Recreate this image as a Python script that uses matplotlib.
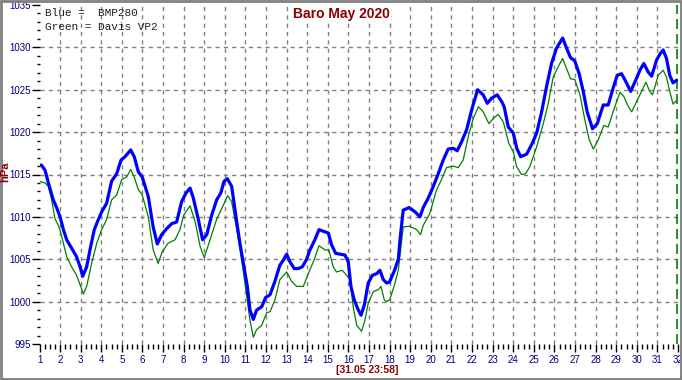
#!/usr/bin/env python

import matplotlib
matplotlib.use('Agg')
import matplotlib.pyplot as plt
from matplotlib.patches import Rectangle
import numpy as np

# BMP280 (blue), day of month and hPa
blue_day = [1.0, 1.1, 1.27, 1.43, 1.67, 1.83, 2.0, 2.16, 2.32, 2.56, 2.8, 2.97,
            3.1, 3.29, 3.45, 3.66, 3.86, 4.02, 4.26, 4.5, 4.75, 4.96, 5.15, 5.43,
            5.6, 5.8, 5.99, 6.28, 6.52, 6.72, 6.93, 7.17, 7.42, 7.66, 7.9, 8.11,
            8.31, 8.47, 8.71, 8.92, 9.12, 9.36, 9.6, 9.8, 9.96, 10.12, 10.33,
            10.54, 10.73, 10.93, 11.09, 11.22, 11.38, 11.54, 11.79, 11.98, 12.19,
            12.43, 12.67, 12.84, 13.0, 13.16, 13.37, 13.56, 13.76, 13.97, 14.13,
            14.37, 14.57, 14.78, 15.02, 15.18, 15.38, 15.59, 15.83, 15.99, 16.12,
            16.28, 16.48, 16.61, 16.77, 16.96, 17.16, 17.37, 17.53, 17.69, 17.85,
            17.99, 18.24, 18.42, 18.52, 18.66, 18.95, 19.23, 19.47, 19.63, 19.87,
            20.12, 20.36, 20.6, 20.84, 21.08, 21.28, 21.5, 21.74, 21.98, 22.27,
            22.54, 22.74, 22.95, 23.22, 23.44, 23.56, 23.76, 24.0, 24.17, 24.36,
            24.65, 24.89, 25.14, 25.38, 25.62, 25.86, 26.1, 26.4, 26.59, 26.78,
            26.99, 27.2, 27.4, 27.59, 27.85, 28.08, 28.37, 28.61, 28.85, 29.05,
            29.26, 29.48, 29.7, 29.96, 30.15, 30.34, 30.55, 30.72, 30.96, 31.12,
            31.28, 31.44, 31.6, 31.76, 31.92]
blue_hpa = [1016.1, 1016.1, 1015.5, 1014.0, 1012.0, 1011.1, 1010.0, 1008.5, 1007.3,
            1006.3, 1005.3, 1004.1, 1003.0, 1004.1, 1006.1, 1008.5, 1009.7, 1010.6,
            1011.6, 1014.2, 1015.1, 1016.7, 1017.1, 1017.9, 1017.1, 1015.3, 1014.7,
            1012.4, 1008.8, 1006.8, 1007.9, 1008.6, 1009.2, 1009.4, 1011.8, 1012.8,
            1013.4, 1012.2, 1009.7, 1007.3, 1007.9, 1010.2, 1012.0, 1012.8, 1014.2,
            1014.5, 1013.6, 1010.0, 1006.9, 1004.1, 1001.8, 999.0, 997.9, 999.0,
            999.4, 1000.5, 1000.8, 1002.4, 1004.3, 1004.9, 1005.6, 1004.7, 1003.9,
            1003.9, 1004.1, 1005.0, 1006.1, 1007.3, 1008.5, 1008.3, 1008.1, 1006.7,
            1005.7, 1005.6, 1005.5, 1004.7, 1001.8, 1000.2, 999.0, 998.4, 999.6,
            1002.2, 1003.1, 1003.3, 1003.7, 1002.6, 1002.2, 1002.3, 1003.7, 1005.0,
            1007.7, 1010.8, 1011.1, 1010.6, 1010.0, 1011.1, 1012.2, 1013.6, 1015.1,
            1016.7, 1018.0, 1018.1, 1017.8, 1018.9, 1020.3, 1022.6, 1025.0, 1024.4,
            1023.4, 1024.0, 1024.4, 1023.6, 1023.0, 1020.6, 1019.9, 1018.1, 1017.1,
            1017.4, 1018.5, 1019.9, 1022.4, 1025.4, 1028.1, 1029.9, 1031.1, 1029.9,
            1028.8, 1028.4, 1026.9, 1024.8, 1022.4, 1020.4, 1021.0, 1023.2, 1023.2,
            1025.2, 1026.7, 1026.9, 1025.9, 1024.8, 1026.2, 1027.3, 1028.1, 1027.1,
            1026.6, 1028.5, 1029.2, 1029.7, 1028.7, 1026.7, 1025.8, 1026.1]

# Davis VP2 (green)
green_day = [1.0, 1.27, 1.43, 1.59, 1.75, 1.95, 2.08, 2.32, 2.56, 2.8, 2.97, 3.13,
             3.29, 3.53, 3.78, 4.02, 4.26, 4.5, 4.75, 4.99, 5.23, 5.43, 5.6, 5.8,
             5.99, 6.28, 6.52, 6.76, 6.96, 7.25, 7.58, 7.82, 8.0, 8.31, 8.56, 8.8,
             9.0, 9.28, 9.6, 9.93, 10.13, 10.33, 10.57, 10.82, 11.06, 11.22, 11.38,
             11.54, 11.79, 12.03, 12.19, 12.43, 12.67, 13.0, 13.24, 13.48, 13.81,
             14.05, 14.33, 14.57, 14.86, 15.05, 15.26, 15.42, 15.7, 15.91, 16.07,
             16.23, 16.4, 16.64, 16.8, 16.96, 17.21, 17.45, 17.58, 17.74, 17.85,
             18.0, 18.24, 18.42, 18.55, 18.66, 18.95, 19.31, 19.5, 19.63, 19.95,
             20.28, 20.52, 20.76, 21.08, 21.33, 21.57, 21.82, 22.06, 22.31, 22.54,
             22.82, 23.03, 23.27, 23.52, 23.78, 24.0, 24.17, 24.4, 24.6, 24.8,
             25.14, 25.46, 25.7, 25.94, 26.18, 26.4, 26.59, 26.78, 26.99, 27.24,
             27.48, 27.69, 27.89, 28.13, 28.4, 28.61, 28.85, 29.18, 29.37, 29.59,
             29.75, 29.99, 30.23, 30.44, 30.63, 30.76, 31.04, 31.28, 31.44, 31.6,
             31.76, 31.92]
green_hpa = [1014.2, 1014.0, 1013.6, 1012.0, 1009.8, 1008.8, 1007.7, 1005.3, 1004.1,
             1003.1, 1002.0, 1000.9, 1001.8, 1004.5, 1006.9, 1008.5, 1009.7, 1012.0,
             1012.6, 1014.4, 1014.7, 1015.6, 1014.7, 1013.2, 1012.6, 1010.0, 1006.1,
             1004.5, 1005.9, 1006.9, 1007.3, 1008.5, 1010.2, 1011.3, 1009.4, 1006.5,
             1005.2, 1007.3, 1009.7, 1011.4, 1012.5, 1011.8, 1008.6, 1004.9, 1000.6,
             997.8, 995.8, 996.7, 997.2, 998.7, 998.8, 1000.2, 1002.6, 1003.5, 1002.4,
             1001.8, 1001.8, 1003.3, 1004.9, 1006.6, 1006.1, 1006.1, 1004.1, 1003.5,
             1003.7, 1003.1, 1002.6, 999.4, 997.2, 996.5, 997.8, 999.8, 1001.2,
             1001.4, 1001.8, 1000.2, 1000.0, 1000.2, 1002.0, 1003.7, 1006.5, 1008.8,
             1008.9, 1008.5, 1007.9, 1009.0, 1010.4, 1013.2, 1014.4, 1015.8, 1016.0,
             1015.8, 1016.7, 1019.5, 1021.6, 1023.0, 1022.4, 1021.0, 1021.6, 1022.1,
             1021.2, 1018.7, 1017.7, 1015.9, 1015.0, 1015.1, 1015.9, 1018.3, 1021.0,
             1023.4, 1026.5, 1027.7, 1028.7, 1027.5, 1026.3, 1026.2, 1024.4, 1021.4,
             1019.1, 1018.0, 1019.1, 1020.8, 1020.6, 1022.4, 1024.7, 1024.2, 1023.0,
             1022.4, 1023.6, 1024.8, 1025.9, 1024.8, 1024.4, 1026.7, 1027.3, 1026.5,
             1024.8, 1023.3, 1023.7]

day_ticks = list(range(1, 33))
hpa_ticks = list(range(995, 1040, 5))
last_stamp = '[31.05 23:58]'

DARKRED = '#8b0000'
NAVY = '#000080'

def main():
    plt.rcParams['font.family'] = ['Liberation Sans', 'DejaVu Sans']
    fig = plt.figure(figsize=(6.82, 3.8), dpi=100)
    ax = fig.add_axes([39.5 / 682, 36 / 380, 638.5 / 682, 339 / 380])
    ax.set_xlim(day_ticks[0], day_ticks[-1])
    ax.set_ylim(hpa_ticks[0], hpa_ticks[-1])

    for d in day_ticks[1:-1]:
        ax.axvline(d, color='#808080', lw=1, dashes=(3, 3), zorder=1)
    for h in hpa_ticks[1:-1]:
        ax.axhline(h, color='#808080', lw=1, dashes=(3, 3), zorder=1)
    # "now" marker
    ax.axvline(day_ticks[-1] - 0.04, color='#008000', lw=1.2, dashes=(6, 3), zorder=2, clip_on=False)

    ax.plot(green_day, green_hpa, color='#008000', lw=0.9, zorder=3)
    ax.plot(blue_day, blue_hpa, color='#0000ff', lw=2.3, zorder=4)

    for s in ax.spines.values():
        s.set_visible(False)
    ax.set_xticks(day_ticks)
    ax.set_yticks(hpa_ticks)
    ax.set_xticks(np.arange(1, 32.01, 0.25), minor=True)
    ax.set_yticks(np.arange(995, 1035.01, 1), minor=True)
    ax.tick_params(which='major', direction='out', colors='black', labelcolor=NAVY,
                   labelsize=7, width=1)
    ax.tick_params(axis='x', which='major', length=6, pad=2)
    ax.tick_params(axis='x', which='minor', length=3.5, width=1)
    ax.tick_params(axis='y', which='major', length=5.5, pad=1)
    ax.tick_params(axis='y', which='minor', length=2.5, width=1)

    fig.text(341 / 682, 1 - 14 / 380, 'Baro May 2020', ha='center', va='center',
             fontsize=10, fontweight='bold', color=DARKRED,
             bbox=dict(facecolor='white', edgecolor='none', pad=1))
    fig.text(45 / 682, 1 - 13 / 380, 'Blue =  BMP280', ha='left', va='center',
             fontsize=8, family='Liberation Mono', color='#202020')
    fig.text(45 / 682, 1 - 27 / 380, 'Green = Davis VP2', ha='left', va='center',
             fontsize=8, family='Liberation Mono', color='#202020')
    fig.text(5.5 / 682, 1 - 172 / 380, 'hPa', rotation=90, ha='center', va='center',
             fontsize=8, fontweight='bold', color=DARKRED)
    fig.text(367 / 682, 1 - 370 / 380, last_stamp, ha='center', va='center',
             fontsize=7.5, fontweight='bold', color=DARKRED)

    fig.patches.append(Rectangle((0.001, 0.002), 0.997, 0.995, transform=fig.transFigure,
                                 fill=False, edgecolor='#808080', lw=2))
    fig.savefig('out.png', dpi=100)

if __name__ == '__main__':
    main()
